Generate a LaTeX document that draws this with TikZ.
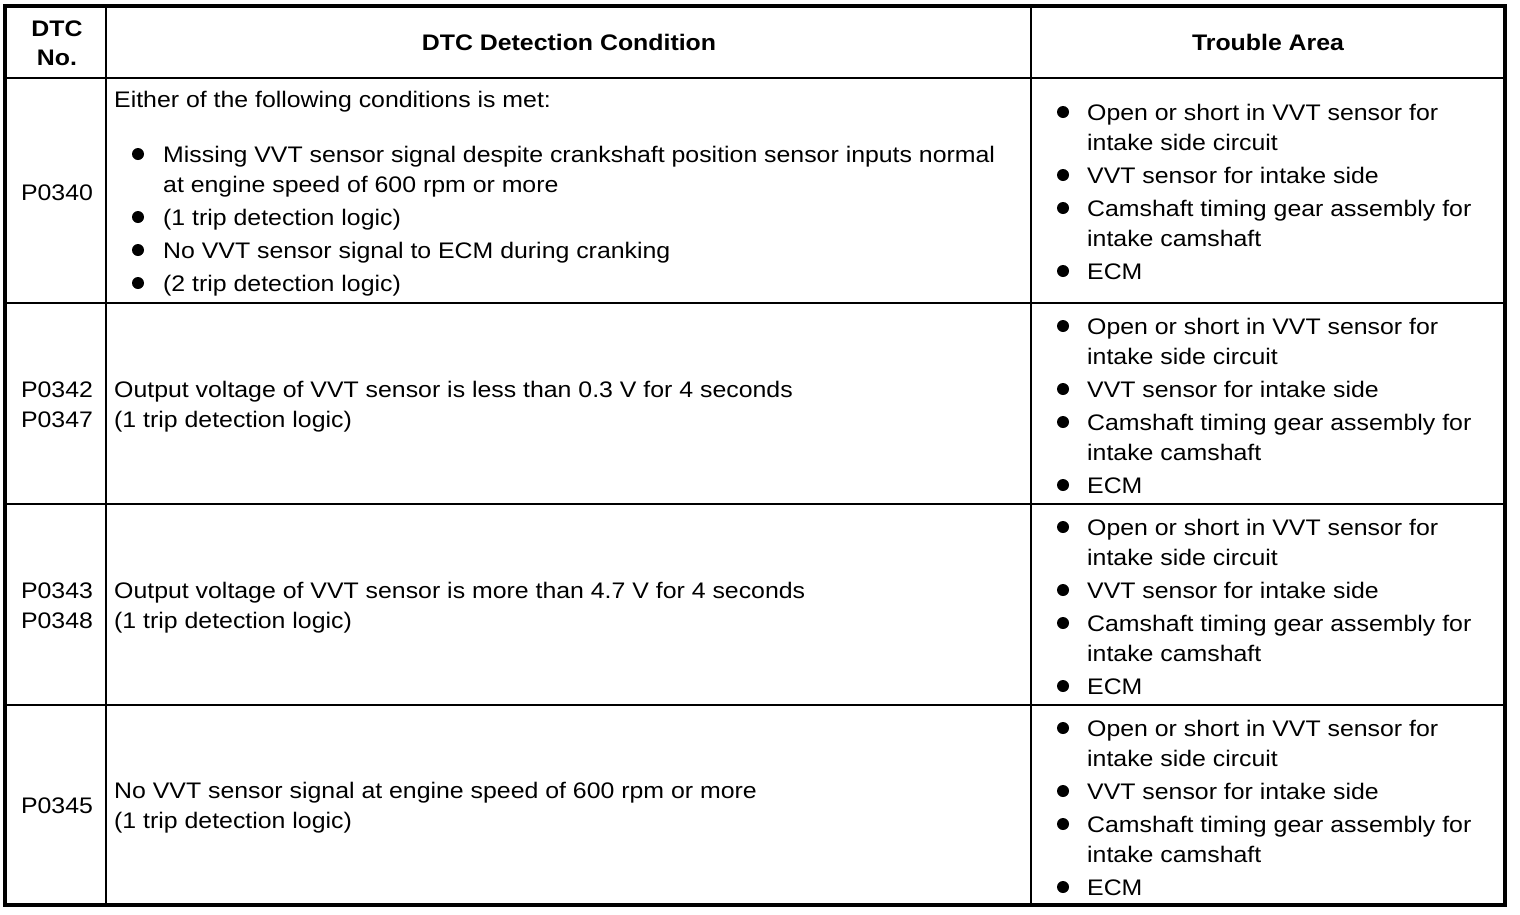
\documentclass[tikz,border=0pt]{standalone}
\usepackage{fontspec}
\setmainfont[FakeStretch=1.105]{Liberation Sans}
\begin{document}
\begin{tikzpicture}[x=1pt,y=-1pt,
  txt/.style={anchor=base west,inner sep=0pt,yshift=1.5pt,font=\fontsize{22.5}{30}\selectfont},
  ctr/.style={anchor=base,inner sep=0pt,yshift=1.5pt,font=\fontsize{22.5}{30}\selectfont},
  hdr/.style={anchor=base,inner sep=0pt,yshift=1.5pt,font=\fontsize{22.5}{30}\selectfont\bfseries},
  inner/.style={line width=2pt},
  outer/.style={line width=4pt},
  dot/.style={fill=black}]
\useasboundingbox (0,0) rectangle (1520,914);
\fill[white] (0,0) rectangle (1520,914);
% grid
\draw[inner] (106,6) -- (106,905);
\draw[inner] (1031,6) -- (1031,905);
\foreach \yy in {78,303,504,705} \draw[inner] (5,\yy) -- (1505,\yy);
\draw[outer] (5,6) rectangle (1505,905);
% header
\node[hdr] (h1a) at (57,38) {DTC};
\node[hdr] (h1b) at (57,67) {No.};
\node[hdr] (h2) at (569,52) {DTC Detection Condition};
\node[hdr] (h3) at (1268,52) {Trouble Area};
% bullets for trouble area
\newcommand{\trouble}[1]{%
  \node[txt] at (1087,#1) {Open or short in VVT sensor for};
  \node[txt] at (1087,#1+30) {intake side circuit};
  \node[txt] at (1087,#1+63) {VVT sensor for intake side};
  \node[txt] at (1087,#1+96) {Camshaft timing gear assembly for};
  \node[txt] at (1087,#1+126) {intake camshaft};
  \node[txt] at (1087,#1+159) {ECM};
  \foreach \dd in {0,63,96,159} \fill[dot] (1063,#1+\dd-10) circle (6);
}
% row 1
\node[ctr] (c1) at (57,202) {P0340};
\node[txt] (r1a) at (114,109) {Either of the following conditions is met:};
\node[txt] (r1b) at (163,164) {Missing VVT sensor signal despite crankshaft position sensor inputs normal};
\node[txt] (r1c) at (163,194) {at engine speed of 600 rpm or more};
\node[txt] (r1d) at (163,227) {(1 trip detection logic)};
\node[txt] (r1e) at (163,260) {No VVT sensor signal to ECM during cranking};
\node[txt] (r1f) at (163,293) {(2 trip detection logic)};
\foreach \yy in {164,227,260,293} \fill[dot] (138,\yy-10) circle (6);
\trouble{122}
% row 2
\node[ctr] (c2a) at (57,399) {P0342};
\node[ctr] (c2b) at (57,429) {P0347};
\node[txt] (r2a) at (114,399) {Output voltage of VVT sensor is less than 0.3 V for 4 seconds};
\node[txt] (r2b) at (114,429) {(1 trip detection logic)};
\trouble{336}
% row 3
\node[ctr] (c3a) at (57,600) {P0343};
\node[ctr] (c3b) at (57,630) {P0348};
\node[txt] (r3a) at (114,600) {Output voltage of VVT sensor is more than 4.7 V for 4 seconds};
\node[txt] (r3b) at (114,630) {(1 trip detection logic)};
\trouble{537}
% row 4
\node[ctr] (c4) at (57,815) {P0345};
\node[txt] (r4a) at (114,800) {No VVT sensor signal at engine speed of 600 rpm or more};
\node[txt] (r4b) at (114,830) {(1 trip detection logic)};
\trouble{738}
\end{tikzpicture}
\end{document}
